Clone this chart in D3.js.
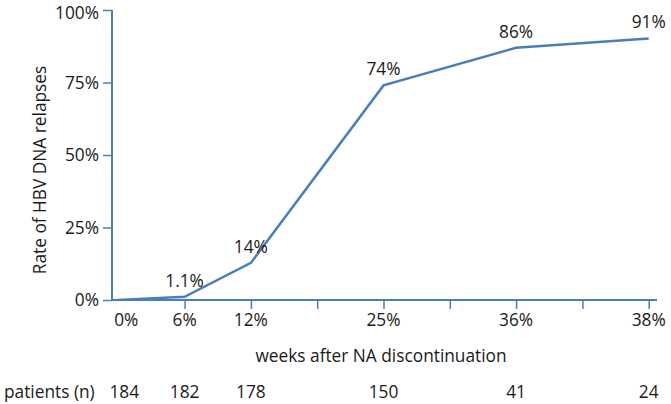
<!DOCTYPE html>
<html><head><meta charset="utf-8">
<script src="https://cdn.jsdelivr.net/npm/d3@7"></script>
<style>body{margin:0;background:#fff}text{font-family:"Open Sans",sans-serif;fill:#1a1a1a}</style>
</head><body><svg id="c" width="671" height="404"></svg>
<script>
const weeks = [0, 4, 8, 16, 24, 32];
const xLabels = ["0%", "6%", "12%", "25%", "36%", "38%"];
const rates = [0.0, 1.1, 12.8, 74.0, 87.0, 90.2];
const rateLabels = ["", "1.1%", "14%", "74%", "86%", "91%"];
const patients = [184, 182, 178, 150, 41, 24];
const xTicks = [4, 8, 12, 16, 20, 24, 28, 32];
const yTicks = [0, 25, 50, 75, 100];

const FS = "17.3px";
const svg = d3.select("#c");
const blue = "#4a7ebb";
const x = d3.scaleLinear().domain([-0.5, 32.5]).range([110, 657]);
const y = d3.scaleLinear().domain([0, 100]).range([300, 10]);

// y axis
const ya = svg.append("g").attr("transform", `translate(${x(-0.5) + 2},0)`)
  .call(d3.axisLeft(y).tickValues(yTicks).tickSize(9).tickPadding(4).tickFormat(d => d + "%"));
ya.select(".domain").attr("stroke", blue).attr("stroke-width", 2).attr("d", `M0,${y(100)}V${y(0)}`);
ya.selectAll(".tick line").attr("stroke", blue).attr("stroke-width", 1.5);
ya.selectAll(".tick text").style("font-size", FS).attr("fill", "#1a1a1a")
  .attr("dy", d => d === 100 ? "0.5em" : "0.32em");

// x axis
const xa = svg.append("g").attr("transform", `translate(0,${y(0)})`)
  .call(d3.axisBottom(x).tickValues(xTicks).tickSize(9).tickFormat(""));
xa.select(".domain").attr("stroke", blue).attr("stroke-width", 2).attr("d", `M${x(-0.5) + 2},0H${x(32.5)}`);
xa.selectAll(".tick line").attr("stroke", blue).attr("stroke-width", 1.5);

svg.append("g").selectAll("text").data(weeks).join("text")
  .attr("x", (d, i) => x(d) + (i === 0 ? 8 : 0)).attr("y", 320).attr("dy", "0.35em")
  .attr("text-anchor", "middle").style("font-size", FS).text((d, i) => xLabels[i]);

svg.append("text").attr("x", 381).attr("y", 356).attr("dy", "0.35em").attr("text-anchor", "middle")
  .style("font-size", FS).text("weeks after NA discontinuation");

svg.append("text").attr("x", 4).attr("y", 392).attr("dy", "0.35em")
  .style("font-size", FS).text("patients (n)");
svg.append("g").selectAll("text").data(weeks).join("text")
  .attr("x", (d, i) => x(d) + (i === 0 ? 6 : 0)).attr("y", 392).attr("dy", "0.35em")
  .attr("text-anchor", "middle").style("font-size", FS).text((d, i) => patients[i]);

svg.append("text").attr("transform", "translate(40,170) rotate(-90)").attr("dy", "0.35em")
  .attr("text-anchor", "middle").style("font-size", FS).text("Rate of HBV DNA relapses");

// line
const pts = weeks.map((w, i) => [w, rates[i]]);
svg.append("path").datum(pts).attr("fill", "none").attr("stroke", blue).attr("stroke-width", 2.5)
  .attr("d", d3.line().x(d => x(d[0])).y(d => y(d[1])));

svg.append("g").selectAll("text").data(pts).join("text")
  .attr("x", d => x(d[0])).attr("y", d => y(d[1]) - 16).attr("dy", "0.35em")
  .attr("text-anchor", "middle").style("font-size", FS).text((d, i) => rateLabels[i]);
</script></body></html>
